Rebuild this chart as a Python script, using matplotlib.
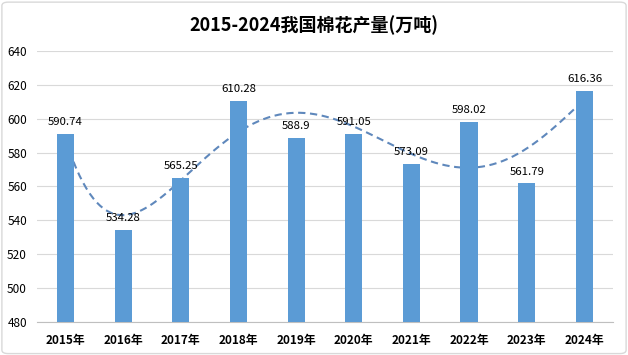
import numpy as np
import matplotlib
matplotlib.use("Agg")
import matplotlib.pyplot as plt
from matplotlib.patches import FancyBboxPatch

plt.rcParams['font.family'] = ['Noto Sans CJK SC', 'DejaVu Sans']

years = ["2015年", "2016年", "2017年", "2018年", "2019年", "2020年", "2021年", "2022年", "2023年", "2024年"]
output = [590.74, 534.28, 565.25, 610.28, 588.9, 591.05, 573.09, 598.02, 561.79, 616.36]
value_labels = ["590.74", "534.28", "565.25", "610.28", "588.9", "591.05", "573.09", "598.02", "561.79", "616.36"]
title = "2015-2024我国棉花产量(万吨)"

bar_color = "#5B9BD5"
trend_color = "#5F88BC"

fig = plt.figure(figsize=(6.28, 3.55), dpi=100)
ax = fig.add_axes([0.0584, 0.093, 0.9182, 0.7633])

x = np.arange(len(years))
ax.bar(x, output, width=0.3, color=bar_color, zorder=3)

# 5th-order polynomial trendline fitted to the data (as in Excel)
coef = np.polyfit(x + 1, output, 5)
xs = np.linspace(0, len(years) - 1, 300)
ax.plot(xs, np.polyval(coef, xs + 1), ls=(0, (3.5, 2.2)), color=trend_color, lw=1.5, zorder=2)

for xi, v, lab in zip(x, output, value_labels):
    ax.annotate(lab, (xi, v), xytext=(0, 5), textcoords="offset points",
                ha="center", va="bottom", fontsize=8.2, color="#000000", zorder=4)

ax.set_xlim(-0.5, len(years) - 0.5)
ax.set_ylim(480, 640)
ax.set_yticks(np.arange(480, 641, 20))
ax.set_xticks(x)
ax.set_xticklabels(years, fontsize=8.5, fontweight="bold")
ax.tick_params(axis="y", labelsize=8.5, length=0, pad=7)
ax.tick_params(axis="x", length=0, pad=9)
ax.grid(axis="y", color="#D9D9D9", lw=0.8, zorder=0)
ax.set_axisbelow(True)
for s in ["top", "right", "left"]:
    ax.spines[s].set_visible(False)
ax.spines["bottom"].set_color("#BFBFBF")
ax.spines["bottom"].set_linewidth(0.8)

fig.text(0.5, 0.93, title, ha="center", va="center", fontsize=13, fontweight="bold")

border = FancyBboxPatch((0.003, 0.004), 0.994, 0.99, boxstyle="round,pad=0,rounding_size=0.01",
                        transform=fig.transFigure, fill=False, edgecolor="#D9D9D9", lw=1)
fig.patches.append(border)

fig.savefig("out.png", dpi=100)
